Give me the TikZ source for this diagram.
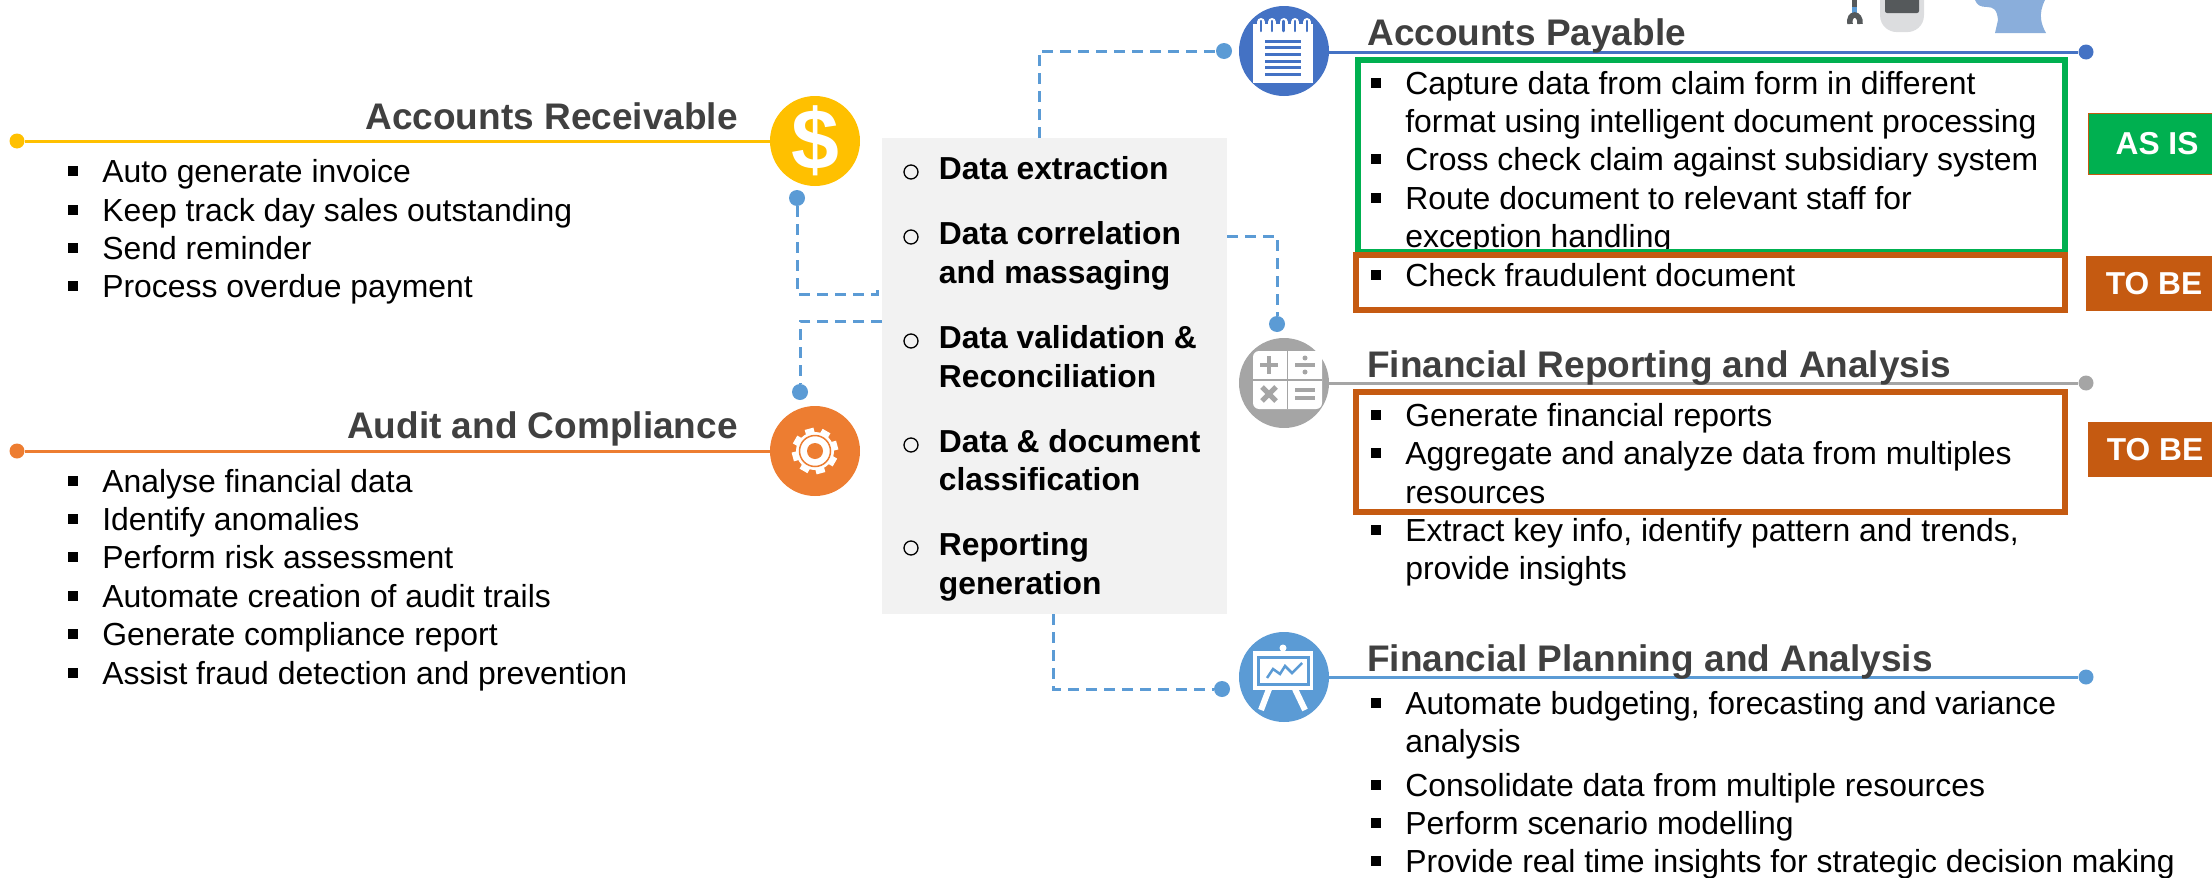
\documentclass[tikz,border=0pt]{standalone}
\usepackage{xcolor}
\usepackage{fontspec}
\setmainfont{Liberation Sans}
\usepackage{tikz}
\usetikzlibrary{calc}
\usetikzlibrary{positioning}
\definecolor{linkblue}{HTML}{5B9BD5}
\definecolor{payblue}{HTML}{4472C4}
\definecolor{goldcol}{HTML}{FFC000}
\definecolor{orangecol}{HTML}{ED7D31}
\definecolor{greycol}{HTML}{A5A5A5}
\definecolor{asisgreen}{HTML}{00B050}
\definecolor{tobebrown}{HTML}{C55A11}
\definecolor{hubgrey}{HTML}{F2F2F2}
\definecolor{headgrey}{HTML}{404040}
\definecolor{devgrey}{HTML}{DCDDDF}
\definecolor{scrgrey}{HTML}{55595B}
\definecolor{figblue}{HTML}{8AAEDB}
\newcommand{\blt}[1]{\makebox[0pt][r]{\rule[6pt]{10pt}{10.5pt}\hspace{24pt}}#1}

\begin{document}
\begin{tikzpicture}[x=1pt,y=-1pt,-,semithick]
	\tikzstyle{badge}=[circle,minimum size=90pt,inner sep=0pt]
	\tikzstyle{dot}=[circle,minimum size=16pt,inner sep=0pt,fill=linkblue]
	\tikzstyle{tip}=[circle,minimum size=15pt,inner sep=0pt]
	\tikzstyle{link}=[linkblue,line width=3pt,dash pattern=on 11pt off 7pt]
	\tikzstyle{rule}=[line width=3pt]
	\tikzstyle{head}=[anchor=base west,inner sep=0pt,text=headgrey,font=\bfseries\fontsize{37pt}{44pt}\selectfont]
	\tikzstyle{item}=[anchor=base west,inner sep=0pt,font=\fontsize{31.9pt}{38pt}\selectfont]
	\tikzstyle{hubline}=[anchor=base west,inner sep=0pt,font=\bfseries\fontsize{31.8pt}{38pt}\selectfont]
	\tikzstyle{ringmark}=[draw,circle,line width=1.3pt,minimum size=14pt,inner sep=0pt]
	\tikzstyle{tag}=[minimum height=55pt,inner sep=0pt,text=white,font=\bfseries\fontsize{31.7pt}{38pt}\selectfont]
	\tikzstyle{frame}=[line width=6pt]
	\useasboundingbox (0,0) rectangle (2212,878);
	% hub in the middle
	\node[fill=hubgrey,minimum width=345pt,minimum height=476pt,inner sep=0pt] (hub) at (1054.5,376) {};
	\foreach \ypos [count=\n] in {172,237,341,445,548}
		\node[ringmark] (rg\n) at (911,\ypos) {};
	\foreach \ypos/\txt [count=\n] in {179/Data extraction,244/Data correlation,283/and massaging,348/Data validation \&,387/Reconciliation,452/Data \& document,490/classification,555/Reporting,594/generation}
		\node[hubline] (hl\n) at (938.6,\ypos) {\txt};
	% badges and their rules
	\node[badge,fill=goldcol] (aricon) at (815,141) {};
	\node[badge,fill=orangecol] (auicon) at (815,451) {};
	\node[badge,fill=payblue] (apicon) at (1284,51) {};
	\node[badge,fill=greycol] (fricon) at (1284,383) {};
	\node[badge,fill=linkblue] (fpicon) at (1284,677) {};
	\node[tip,fill=goldcol] (artip) at (17,141) {};
	\node[tip,fill=orangecol] (autip) at (17,451) {};
	\node[tip,fill=payblue] (aptip) at (2086,52) {};
	\node[tip,fill=greycol] (frtip) at (2086,383) {};
	\node[tip,fill=linkblue] (fptip) at (2086,677) {};
	\draw[rule,goldcol] (artip) -- (aricon);
	\draw[rule,orangecol] (autip) -- (auicon);
	\draw[rule,payblue] (apicon.east |- aptip) -- (aptip);
	\draw[rule,greycol] (fricon) -- (frtip);
	\draw[rule,linkblue] (fpicon) -- (fptip);
	% dashed links
	\node[dot] (ardot) at (797,198) {};
	\node[dot] (audot) at (800,392) {};
	\node[dot] (apdot) at (1224,51) {};
	\node[dot] (frdot) at (1277,324) {};
	\node[dot] (fpdot) at (1222,689) {};
	\coordinate (hubar) at (877,294);
	\coordinate (hubau) at (882,321);
	\coordinate (hubap) at (1039,138);
	\coordinate (hubfr) at (1227,236);
	\coordinate (hubfp) at (1053,614);
	\draw[link] (ardot) |- (hubar) -- ++(0,-4);
	\draw[link] (hubau) -| (audot);
	\draw[link] (hubap) |- (apdot);
	\draw[link] (hubfr) -| (frdot);
	\draw[link] (hubfp) |- (fpdot);
	% dollar
	\node[inner sep=0pt,text=white,font=\bfseries\fontsize{86pt}{86pt}\selectfont] (dollar) at (815,141) {\$};
	% gear
	\foreach \a in {15,60,...,330}
		\fill[white,rotate around={\a:(auicon)}] (810.5,451) rectangle (819.5,428);
	\fill[white] (auicon) circle (19);
	\draw[orangecol,line width=1.5pt] (auicon) circle (15.5);
	\fill[orangecol] (auicon) circle (8);
	% notepad
	\fill[white] (1253,24) rectangle (1313,83);
	\foreach \x in {1261,1272,1283.5,1295,1307}{
		\draw[white,line width=8pt,line cap=round] (\x,22) -- (\x,30);
		\draw[payblue,line width=2.5pt,line cap=round] (\x,21) -- (\x,31);
	}
	\foreach \ypos in {41,47.5,54,61,67.5,74}
		\draw[payblue,line width=3pt] (1265,\ypos) -- (1301,\ypos);
	% calculator
	\fill[white,rounded corners=6pt] (1253,351) rectangle (1322,409);
	\draw[greycol,line width=1.5pt] (1287.5,351) -- (1287.5,409);
	\draw[greycol,line width=1.5pt] (1253,380) -- (1322,380);
	\draw[greycol,line width=4.5pt] (1260,365) -- (1278,365);
	\draw[greycol,line width=4.5pt] (1269,356) -- (1269,374);
	\draw[greycol,line width=3.5pt] (1295,365) -- (1315,365);
	\fill[greycol] (1305,358) circle (2.5);
	\fill[greycol] (1305,372) circle (2.5);
	\draw[greycol,line width=5pt] (1262,387) -- (1276,401);
	\draw[greycol,line width=5pt] (1276,387) -- (1262,401);
	\draw[greycol,line width=4pt] (1295,390) -- (1315,390);
	\draw[greycol,line width=4pt] (1295,398) -- (1315,398);
	% board
	\fill[white] (1283,648) circle (3.5);
	\fill[white] (1253,651) rectangle (1313,690);
	\draw[linkblue,line width=3pt] (1258.5,657) rectangle (1308,684);
	\draw[linkblue,line width=2.5pt] (1267,678) -- (1273,669) -- (1280,674) -- (1285,666) -- (1292,673) -- (1302,663);
	\draw[white,line width=6pt] (1269,689) -- (1261,710);
	\draw[white,line width=6pt] (1295,689) -- (1305,710);
	% what is left of the top figures
	\fill[scrgrey] (1852,0) rectangle (1857,7);
	\fill[linkblue] (1852,7) rectangle (1857,13);
	\draw[scrgrey,line width=5.5pt] (1850,24) .. controls (1848,12) and (1861,12) .. (1860,24);
	\fill[devgrey] (1880,0) -- (1880,15) .. controls (1880,27) and (1890,32) .. (1896,32) -- (1908,32) .. controls (1914,32) and (1924,27) .. (1924,15) -- (1924,0) -- cycle;
	\fill[scrgrey,rounded corners=2pt] (1885,-4) rectangle (1919,13);
	\fill[figblue] (1975,0) .. controls (1977,5) and (1980,7) .. (1987,7) .. controls (1994,7) and (1997,10) .. (1998,20) -- (1995,33) -- (2046,33) .. controls (2041,24) and (2038,14) .. (2045,0) -- cycle;
	% headings
	\node[head,anchor=base east] (arhead) at (738,129) {Accounts Receivable};
	\node[head,anchor=base east] (auhead) at (738,438) {Audit and Compliance};
	\node[head] (aphead) at (1367,45) {Accounts Payable};
	\node[head] (frhead) at (1367,377) {Financial Reporting and Analysis};
	\node[head] (fphead) at (1367,671) {Financial Planning and Analysis};
	% lists
	\foreach \ypos/\txt [count=\n] in {182/\blt{Auto generate invoice},221/\blt{Keep track day sales outstanding},259/\blt{Send reminder},297/\blt{Process overdue payment}}
		\node[item] (ar\n) at (102,\ypos) {\txt};
	\foreach \ypos/\txt [count=\n] in {492/\blt{Analyse financial data},530/\blt{Identify anomalies},568/\blt{Perform risk assessment},607/\blt{Automate creation of audit trails},645/\blt{Generate compliance report},684/\blt{Assist fraud detection and prevention}}
		\node[item] (au\n) at (102,\ypos) {\txt};
	\foreach \ypos/\txt [count=\n] in {94/\blt{Capture data from claim form in different},132/format using intelligent document processing,170/\blt{Cross check claim against subsidiary system},209/\blt{Route document to relevant staff for},247/exception handling,286/\blt{Check fraudulent document}}
		\node[item] (ap\n) at (1405,\ypos) {\txt};
	\foreach \ypos/\txt [count=\n] in {426/\blt{Generate financial reports},464/\blt{Aggregate and analyze data from multiples},503/resources,541/{\blt{Extract key info, identify pattern and trends,}},579/provide insights}
		\node[item] (fr\n) at (1405,\ypos) {\txt};
	\foreach \ypos/\txt [count=\n] in {714/{\blt{Automate budgeting, forecasting and variance}},752/analysis,796/\blt{Consolidate data from multiple resources},834/\blt{Perform scenario modelling},872/\blt{Provide real time insights for strategic decision making}}
		\node[item] (fp\n) at (1405,\ypos) {\txt};
	% as is / to be
	\draw[frame,asisgreen] (1358,60) rectangle (2065,252);
	\draw[frame,tobebrown] (1356,255) rectangle (2065,310);
	\draw[frame,tobebrown] (1356,392) rectangle (2065,512);
	\node[tag,draw=tobebrown,line width=1pt,fill=asisgreen,minimum width=138pt,minimum height=61pt] (asis) at (2157,143.5) {AS IS};
	\node[tag,fill=tobebrown,minimum width=136pt] (tobea) at (2154,283.5) {TO BE};
	\node[tag,fill=tobebrown,minimum width=134pt] (tobeb) at (2155,449.5) {TO BE};
\end{tikzpicture}
\end{document}
